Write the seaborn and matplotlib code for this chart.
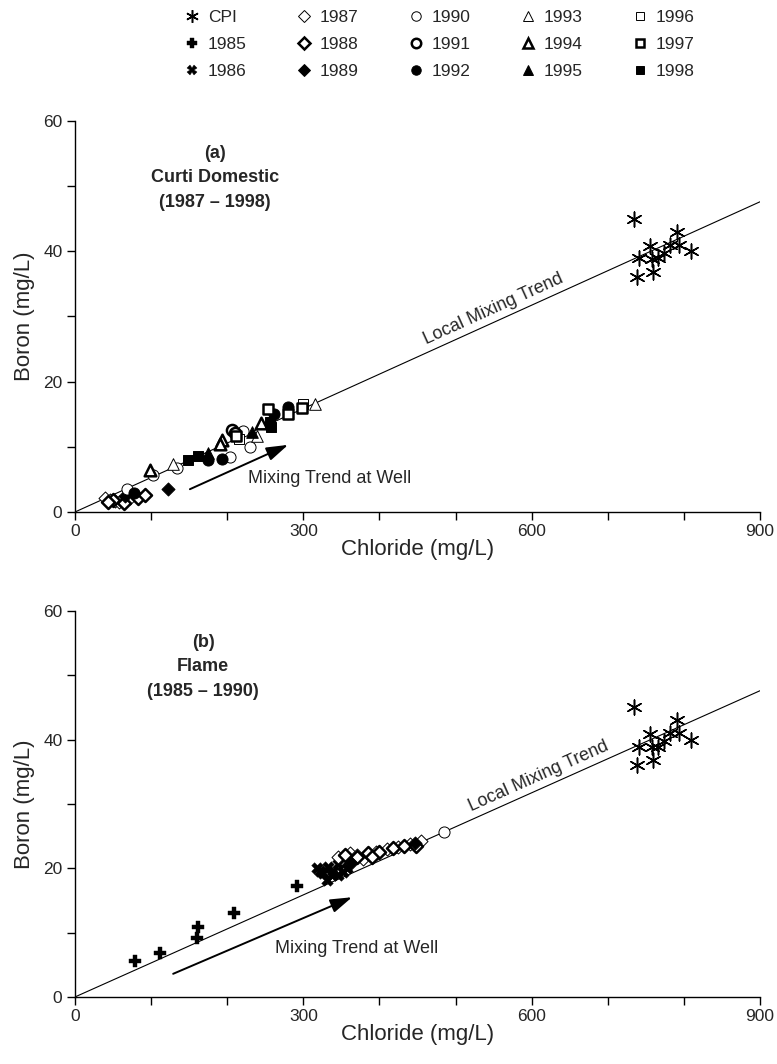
import numpy as np
import pandas as pd
import matplotlib
matplotlib.use("Agg")
import matplotlib.pyplot as plt
from matplotlib.lines import Line2D
import seaborn as sns

sns.set_theme(style="white")
plt.rcParams['font.family'] = ['Liberation Sans', 'DejaVu Sans']

# ---------------- data ----------------
cpi_cl = [735, 791, 755, 782, 794, 809, 741, 758, 766, 774, 759, 738]
cpi_b = [45.0, 43.0, 40.8, 41.0, 41.0, 40.0, 38.9, 38.8, 38.9, 39.8, 36.9, 36.0]

trend_x = [0, 900]
trend_y = [0, 47.6]

# panel (a) Curti Domestic 1987-1998
a_1987_cl = [40, 46, 52, 58, 72]
a_1987_b = [2.1, 1.9, 1.7, 1.6, 2.1]
a_1988_cl = [50, 64, 83, 92, 44]
a_1988_b = [1.9, 1.4, 2.2, 2.6, 1.6]
a_1989_cl = [122, 66]
a_1989_b = [3.6, 2.5]
a_1990_cl = [69, 103, 134, 204, 230, 221]
a_1990_b = [3.5, 5.7, 6.7, 8.5, 10.0, 12.5]
a_1991_cl = [206, 210]
a_1991_b = [12.6, 12.1]
a_1992_cl = [280, 262, 175, 193, 77]
a_1992_b = [16.1, 15.0, 8.0, 8.1, 2.9]
a_1993_cl = [315, 129, 239]
a_1993_b = [16.6, 7.4, 11.6]
a_1994_cl = [98, 193, 245, 190]
a_1994_b = [6.4, 11.0, 13.6, 10.5]
a_1995_cl = [175, 233]
a_1995_b = [9.1, 12.3]
a_1996_cl = [300, 215]
a_1996_b = [16.6, 11.2]
a_1997_cl = [254, 280, 298, 212]
a_1997_b = [15.8, 15.1, 16.0, 11.6]
a_1998_cl = [256, 258, 149, 161]
a_1998_b = [13.8, 13.0, 8.0, 8.6]

# panel (b) Flame 1985-1990
b_1985_cl = [79, 112, 160, 161, 209, 292]
b_1985_b = [5.6, 6.8, 9.2, 10.8, 13.0, 17.3]
b_1986_cl = [318, 326, 332, 339, 346, 352, 331, 338, 358, 345, 322]
b_1986_b = [20.1, 19.2, 20.2, 19.6, 20.7, 19.4, 18.2, 18.9, 20.0, 19.0, 19.6]
b_1987_cl = [346, 361, 378, 395, 410, 425, 440, 455, 370]
b_1987_b = [21.8, 22.3, 21.5, 22.5, 23.0, 23.3, 23.8, 24.2, 22.0]
b_1988_cl = [355, 370, 385, 400, 418, 432, 448, 390]
b_1988_b = [22.0, 21.8, 22.3, 22.6, 23.1, 23.5, 23.5, 21.8]
b_1989_cl = [447, 362]
b_1989_b = [23.9, 20.8]
b_1990_cl = [485]
b_1990_b = [25.6]

years = ['CPI', '1985', '1986', '1987', '1988', '1989', '1990', '1991',
         '1992', '1993', '1994', '1995', '1996', '1997', '1998']

# style per legend entry: marker, facecolor, edge width, size
TH, BD = 0.7, 1.8
styles = {
    'CPI': dict(marker=(6, 2, 0), fc='black', lw=1.1, s=115),
    '1985': dict(marker='P', fc='black', lw=0.3, s=80),
    '1986': dict(marker='X', fc='black', lw=0.3, s=70),
    '1987': dict(marker='D', fc='white', lw=TH, s=44),
    '1988': dict(marker='D', fc='white', lw=BD, s=44),
    '1989': dict(marker='D', fc='black', lw=TH, s=44),
    '1990': dict(marker='o', fc='white', lw=TH, s=64),
    '1991': dict(marker='o', fc='white', lw=BD, s=64),
    '1992': dict(marker='o', fc='black', lw=TH, s=64),
    '1993': dict(marker='^', fc='white', lw=TH, s=70),
    '1994': dict(marker='^', fc='white', lw=BD, s=70),
    '1995': dict(marker='^', fc='black', lw=TH, s=70),
    '1996': dict(marker='s', fc='white', lw=TH, s=58),
    '1997': dict(marker='s', fc='white', lw=BD, s=58),
    '1998': dict(marker='s', fc='black', lw=TH, s=58),
}

panel_a = {
    '1987': (a_1987_cl, a_1987_b), '1988': (a_1988_cl, a_1988_b),
    '1989': (a_1989_cl, a_1989_b), '1990': (a_1990_cl, a_1990_b),
    '1991': (a_1991_cl, a_1991_b), '1992': (a_1992_cl, a_1992_b),
    '1993': (a_1993_cl, a_1993_b), '1994': (a_1994_cl, a_1994_b),
    '1995': (a_1995_cl, a_1995_b), '1996': (a_1996_cl, a_1996_b),
    '1997': (a_1997_cl, a_1997_b), '1998': (a_1998_cl, a_1998_b),
    'CPI': (cpi_cl, cpi_b),
}
panel_b = {
    '1985': (b_1985_cl, b_1985_b), '1986': (b_1986_cl, b_1986_b),
    '1987': (b_1987_cl, b_1987_b), '1988': (b_1988_cl, b_1988_b),
    '1989': (b_1989_cl, b_1989_b), '1990': (b_1990_cl, b_1990_b),
    'CPI': (cpi_cl, cpi_b),
}

fig = plt.figure(figsize=(7.77, 10.64), dpi=100)
ax_a = fig.add_axes([0.0965, 0.5188, 0.8816, 0.3675])
ax_b = fig.add_axes([0.0965, 0.0630, 0.8816, 0.3628])


def draw_panel(ax, groups, title_lines, title_x, local_x, arrow_xy, arrow_txt):
    ax.set_xlim(0, 900)
    ax.set_ylim(0, 60)
    sns.lineplot(x=trend_x, y=trend_y, ax=ax, color='black', lw=0.8)
    for key, (xs, ys) in groups.items():
        st = styles[key]
        df = pd.DataFrame({'Chloride': xs, 'Boron': ys})
        sns.scatterplot(data=df, x='Chloride', y='Boron', ax=ax,
                        marker=st['marker'], s=st['s'], color=st['fc'],
                        edgecolor='black', linewidth=st['lw'], zorder=3,
                        legend=False)
    for sp in ['top', 'right']:
        ax.spines[sp].set_visible(False)
    for sp in ['left', 'bottom']:
        ax.spines[sp].set_color('black')
        ax.spines[sp].set_linewidth(1.0)
    ax.set_xticks([0, 300, 600, 900])
    ax.set_xticks(np.arange(0, 901, 100), minor=True)
    ax.set_yticks([0, 20, 40, 60])
    ax.set_yticks(np.arange(0, 61, 10), minor=True)
    ax.tick_params(which='both', direction='out', length=6, width=1.0,
                   color='black', labelsize=12.5, pad=3,
                   left=True, bottom=True)
    ax.set_xlabel('Chloride (mg/L)', fontsize=16, labelpad=0)
    ax.set_ylabel('Boron (mg/L)', fontsize=16, labelpad=6)
    for i, t in enumerate(title_lines):
        ax.text(title_x, 0.918 - i * 0.063, t, transform=ax.transAxes,
                ha='center', va='center', fontsize=13, fontweight='bold')
    # rotated "Local Mixing Trend"
    p1 = ax.transData.transform((trend_x[0], trend_y[0]))
    p2 = ax.transData.transform((trend_x[1], trend_y[1]))
    ang = np.degrees(np.arctan2(p2[1] - p1[1], p2[0] - p1[0]))
    slope = trend_y[1] / trend_x[1]
    ax.annotate('Local Mixing Trend', xy=(local_x, slope * local_x),
                xytext=(-np.sin(np.radians(ang)) * 2.5,
                        np.cos(np.radians(ang)) * 2.5),
                textcoords='offset points', rotation=ang,
                rotation_mode='anchor', ha='left', va='bottom', fontsize=13)
    (x0, y0), (x1, y1) = arrow_xy
    ax.annotate('', xy=(x1, y1), xytext=(x0, y0),
                arrowprops=dict(arrowstyle='-|>,head_length=1.1,head_width=0.35',
                                color='black', lw=1.4, shrinkA=0, shrinkB=0))
    ax.text(arrow_txt[0], arrow_txt[1], 'Mixing Trend at Well', ha='left',
            va='center', fontsize=13)


fig.canvas.draw()
draw_panel(ax_a, panel_a, ['(a)', 'Curti Domestic', '(1987 – 1998)'], 0.204,
           466, ((151, 3.5), (280, 10.3)), (227, 5.2))
draw_panel(ax_b, panel_b, ['(b)', 'Flame', '(1985 – 1990)'], 0.187,
           525, ((129, 3.6), (364, 15.5)), (263, 7.6))

handles = []
for key in years:
    st = styles[key]
    ms = np.sqrt(st['s'])
    handles.append(Line2D([], [], ls='none', marker=st['marker'],
                          markersize=ms * 0.85, markerfacecolor=st['fc'],
                          markeredgecolor='black', markeredgewidth=st['lw'],
                          color='black'))
fig.legend(handles, years, ncol=5, loc='upper center',
           bbox_to_anchor=(0.566, 1.0), frameon=False, fontsize=12.5,
           handlelength=0.8, handletextpad=0.5, columnspacing=2.9,
           labelspacing=0.7, borderaxespad=0.15)

fig.savefig('out.png', dpi=100)
